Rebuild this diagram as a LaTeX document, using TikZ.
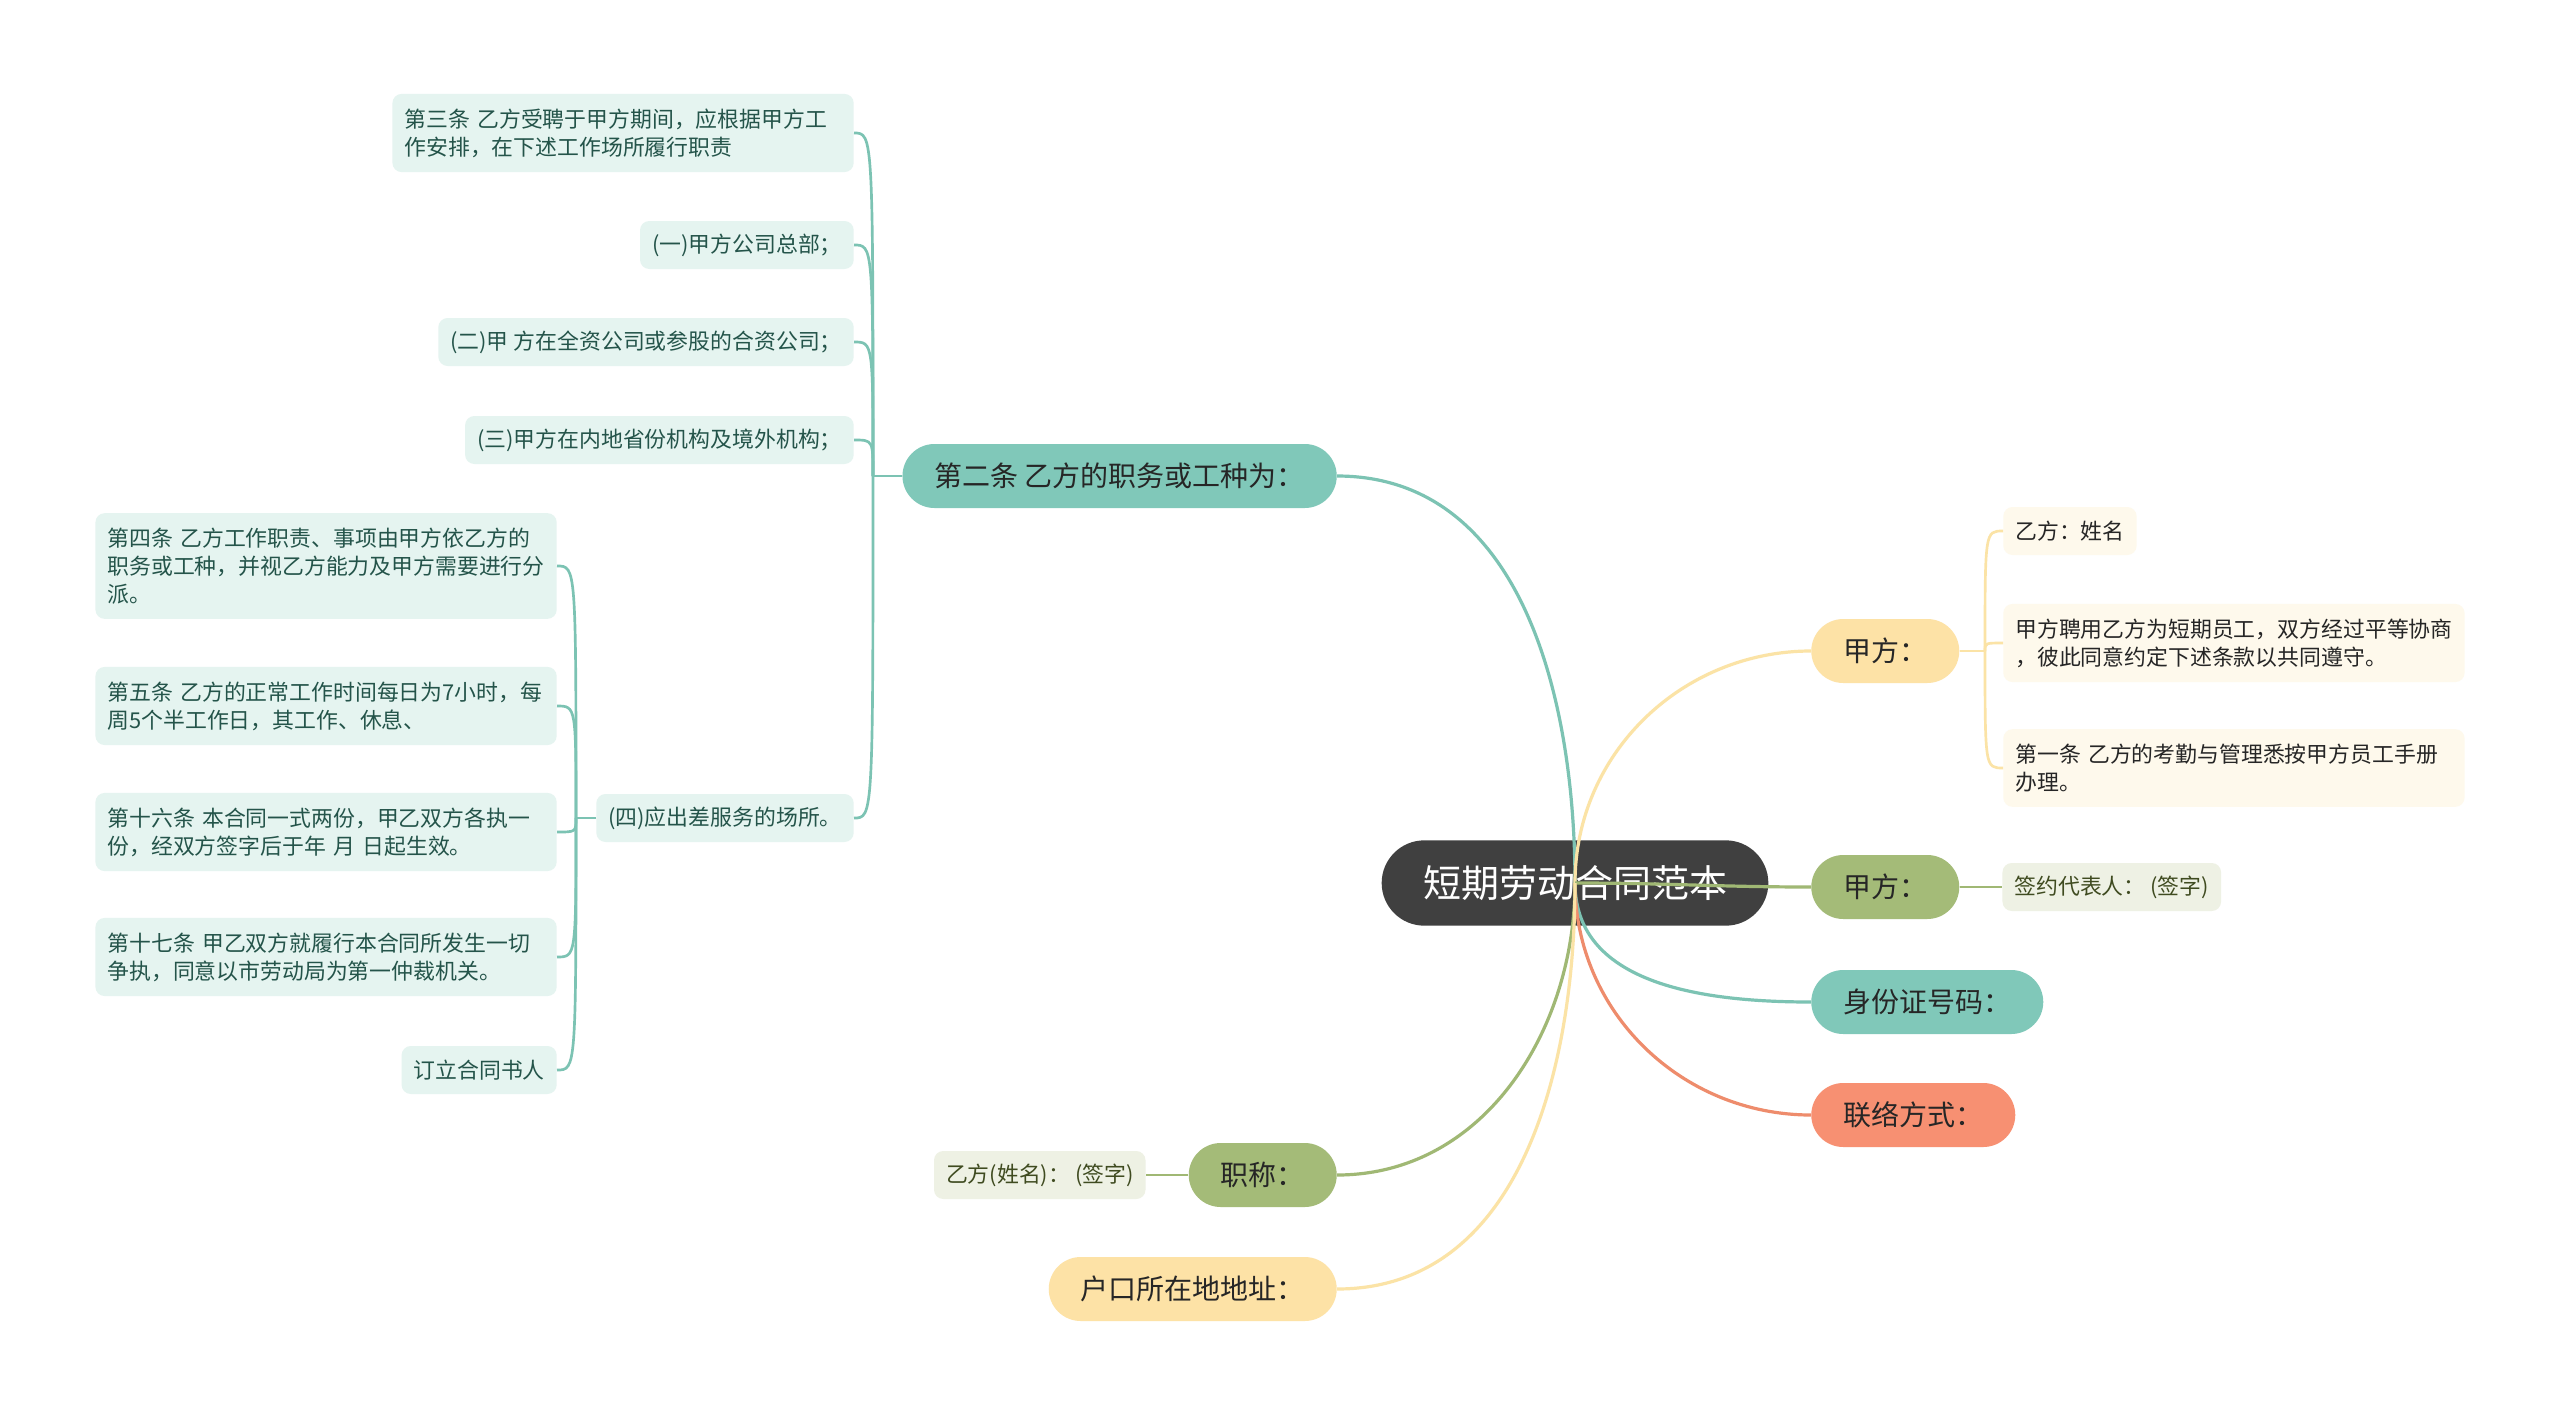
\documentclass[tikz,border=0pt]{standalone}
\usepackage{fontspec}
\setmainfont{Noto Sans CJK SC}
\usepackage{tikz}
\usetikzlibrary{positioning, calc}

\definecolor{rootgray}{HTML}{404040}
\definecolor{tealmain}{HTML}{80C8B9}
\definecolor{tealline}{HTML}{7CC3B3}
\definecolor{tealleaf}{HTML}{E5F4F0}
\definecolor{tealtext}{HTML}{24544A}
\definecolor{yelmain}{HTML}{FDE2A6}
\definecolor{yelline}{HTML}{FBE3A6}
\definecolor{yelleaf}{HTML}{FEF9EC}
\definecolor{grnmain}{HTML}{A4BB78}
\definecolor{grnline}{HTML}{A0B874}
\definecolor{grnleaf}{HTML}{EEF1E4}
\definecolor{grntext}{HTML}{3F4B20}
\definecolor{orgmain}{HTML}{F79072}
\definecolor{orgline}{HTML}{EE8C6C}
\definecolor{darktext}{HTML}{262626}

\tikzset{
	rootbox/.style={fill=rootgray, text=white, rounded corners=32pt, minimum height=64pt, inner xsep=31pt, font=\fontsize{28.5}{32}\selectfont},
	topic/.style={rounded corners=24pt, minimum height=48pt, inner xsep=24pt, text=darktext, font=\fontsize{21}{25}\selectfont},
	leaf/.style={rounded corners=7pt, inner xsep=9pt, inner ysep=9pt, minimum height=36pt, align=left, font=\fontsize{16.4}{21}\selectfont},
	wide/.style={text width=328pt, inner ysep=11pt},
	tleaf/.style={leaf, fill=tealleaf, text=tealtext},
	yleaf/.style={leaf, fill=yelleaf, text=darktext},
	gleaf/.style={leaf, fill=grnleaf, text=grntext},
	mainline/.style={line width=2.4pt},
	subline/.style={line width=2pt}
}

\begin{document}
\begin{tikzpicture}[x=0.75pt, y=-0.75pt, node distance=16pt and 32pt]
	\useasboundingbox[fill=white] (0,0) rectangle (2560,1417);
	% centre and main topics
	\node[rootbox] (root) at (1575,883) {短期劳动合同范本};
	\node[topic, fill=tealmain, anchor=east] (duty) at (1337,476) {第二条 乙方的职务或工种为：};
	\node[topic, fill=yelmain, anchor=west] (partyA) at (1811,651) {甲方：};
	\node[topic, fill=grnmain, anchor=west] (partyB) at (1811,887) {甲方：};
	\node[topic, fill=tealmain, anchor=west] (idno) at (1811,1002) {身份证号码：};
	\node[topic, fill=orgmain, anchor=west] (contact) at (1811,1115) {联络方式：};
	\node[topic, fill=grnmain, anchor=east] (title) at (1337,1175) {职称：};
	\node[topic, fill=yelmain, anchor=east] (address) at (1337,1289) {户口所在地地址：};

	% 第二条 branch
	\node[tleaf, wide, anchor=east] (art3) at (854,133) {第三条 乙方受聘于甲方期间，应根据甲方工\\作安排，在下述工作场所履行职责};
	\node[tleaf, anchor=east] (place1) at (854,245) {(一)甲方公司总部；};
	\node[tleaf, anchor=east] (place2) at (854,342) {(二)甲 方在全资公司或参股的合资公司；};
	\node[tleaf, anchor=east] (place3) at (854,440) {(三)甲方在内地省份机构及境外机构；};
	\node[tleaf, anchor=east] (place4) at (854,818) {(四)应出差服务的场所。};
	\coordinate (dutybus) at (873,476);

	\node[tleaf, wide, anchor=east] (art4) at (557,566) {第四条 乙方工作职责、事项由甲方依乙方的\\职务或工种，并视乙方能力及甲方需要进行分\\派。};
	\node[tleaf, wide, anchor=east] (art5) at (557,706) {第五条 乙方的正常工作时间每日为7小时，每\\周5个半工作日，其工作、休息、};
	\node[tleaf, wide, anchor=east] (art16) at (557,832) {第十六条 本合同一式两份，甲乙双方各执一\\份，经双方签字后于年 月 日起生效。};
	\node[tleaf, wide, anchor=east] (art17) at (557,957) {第十七条 甲乙双方就履行本合同所发生一切\\争执，同意以市劳动局为第一仲裁机关。};
	\node[tleaf, anchor=east] (signer) at (557,1070) {订立合同书人};
	\coordinate (placebus) at (576,818);

	% 甲方 branch
	\node[yleaf, anchor=west] (nameB) at (2003,531) {乙方：姓名};
	\node[yleaf, wide, anchor=west] (hire) at (2003,643) {甲方聘用乙方为短期员工，双方经过平等协商\\，彼此同意约定下述条款以共同遵守。};
	\node[yleaf, wide, anchor=west] (art1) at (2003,768) {第一条 乙方的考勤与管理悉按甲方员工手册\\办理。};
	\coordinate (partybus) at (1985,651);

	\node[gleaf, right=32pt of partyB] (rep) {签约代表人： (签字)};
	\node[gleaf, left=32pt of title] (signB) {乙方(姓名)： (签字)};

	% connectors from the centre
	\draw[mainline, tealline] (root.center) to[out=90, in=0] (duty.east);
	\draw[mainline, yelline] (root.center) to[out=90, in=180] (partyA.west);
	\draw[mainline, grnline] (root.center) to[out=0, in=180] (partyB.west);
	\draw[mainline, tealline] (root.center) to[out=-90, in=180] (idno.west);
	\draw[mainline, orgline] (root.center) to[out=-90, in=180] (contact.west);
	\draw[mainline, grnline] (root.center) to[out=-90, in=0] (title.east);
	\draw[mainline, yelline] (root.center) to[out=-90, in=0] (address.east);

	% sub connectors
	\draw[subline, tealline] (duty.west) -- (dutybus);
	\foreach \c in {art3,place1,place2,place3,place4}
		\draw[subline, tealline] (dutybus) .. controls (dutybus |- \c.east) .. (\c.east);
	\draw[subline, tealline] (place4.west) -- (placebus);
	\foreach \c in {art4,art5,art16,art17,signer}
		\draw[subline, tealline] (placebus) .. controls (placebus |- \c.east) .. (\c.east);
	\draw[subline, yelline] (partyA.east) -- (partybus);
	\foreach \c in {nameB,hire,art1}
		\draw[subline, yelline] (partybus) .. controls (partybus |- \c.west) .. (\c.west);
	\draw[subline, grnline] (partyB.east) -- (rep.west);
	\draw[subline, grnline] (title.west) -- (signB.east);
\end{tikzpicture}
\end{document}
